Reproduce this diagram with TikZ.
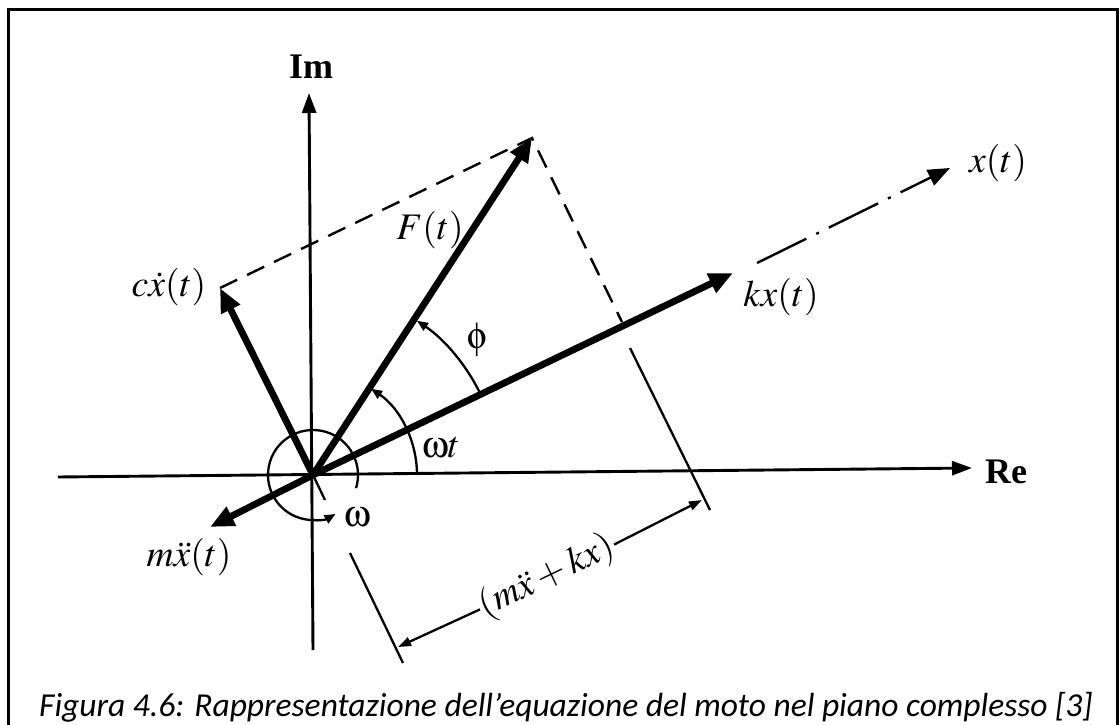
\documentclass[tikz,border=0pt]{standalone}
\usepackage{mathptmx}
\usepackage[Symbol]{upgreek}
\usepackage[no-math]{fontspec}
\setmainfont{Liberation Serif}
\newfontfamily\capfont{Carlito}
\usetikzlibrary{arrows.meta}
\begin{document}
\begin{tikzpicture}[x=1pt,y=1pt,
  vec/.style={line width=6.8pt,-{Triangle[length=24pt,width=20pt]}},
  axis/.style={line width=2.9pt,-{Triangle[length=20pt,width=14pt]}},
  thinline/.style={line width=2.3pt},
  arcarrow/.style={line width=2.3pt,-{Triangle[length=11pt,width=9pt]}},
  dimarrow/.style={line width=2.3pt,-{Triangle[length=13pt,width=9pt]}},
  dashedline/.style={line width=2.4pt,dash pattern=on 19pt off 11pt},
  dashdot/.style={line width=2.4pt,dash pattern=on 55pt off 11pt on 3pt off 11pt,-{Triangle[length=22pt,width=17pt]}},
  lab/.style={inner sep=1pt,font=\fontsize{37.5}{42}\selectfont},
  axlab/.style={inner sep=1pt,font=\fontsize{36}{40}\selectfont\bfseries}]
\useasboundingbox (0,0) rectangle (1119,724);
\begin{scope}
  \clip (0,0) rectangle (1119,724);
  \draw[line width=3pt] (8,714) rectangle (1117,-20);
\end{scope}
% points
\coordinate (O) at (313,249);
\coordinate (ReL) at (58,247);
\coordinate (ReT) at (972,256);
\coordinate (ImB) at (313,74);
\coordinate (ImT) at (309,631);
\coordinate (KX) at (733,451);
\coordinate (XS) at (757,461);
\coordinate (XT) at (950,556);
\coordinate (FT) at (532,586);
\coordinate (CX) at (220,436);
\coordinate (CXe) at (325,224);
\coordinate (MX) at (210,197);
\coordinate (FP) at (622,402);
\coordinate (E1a) at (630,376);
\coordinate (E1b) at (710,214);
\coordinate (E2a) at (350,171);
\coordinate (E2b) at (403,61);
\coordinate (D1) at (398,77);
\coordinate (D2) at (702,224);
% axes
\draw[axis] (ReL) -- (ReT);
\draw[axis] (ImB) -- (ImT);
\node[axlab] (re) at (1006,252) {Re};
\node[axlab] (im) at (311,657) {Im};
% dashed construction
\draw[dashedline] (CX) -- (FT) -- (FP);
\draw[dashdot] (XS) -- (XT);
% vectors
\draw[vec] (O) -- (KX);
\draw[vec] (O) -- (FT);
\draw[vec] (O) -- (CX);
\draw[vec] (O) -- (MX);
\draw[thinline] (O) -- (CXe);
% angle arcs
\draw[arcarrow] ([shift={(0:104)}]O) arc[start angle=0,end angle=56,radius=104];
\draw[arcarrow] ([shift={(25.7:186)}]O) arc[start angle=25.7,end angle=56,radius=186];
\draw[arcarrow] ([shift={(-17:45)}]O) arc[start angle=-17,end angle=300,radius=45];
% extension lines
\draw[thinline] (E1a) -- (E1b);
\draw[thinline] (E2a) -- (E2b);
% dimension
\node[lab,rotate=25.8] (dim) at (547,147) {$(m\ddot{x} + kx)$};
\draw[dimarrow] (dim.west) -- (D1);
\draw[dimarrow] (dim.east) -- (D2);
% labels
\node[lab] (kxl) at (781,427) {$kx(t)$};
\node[lab] (xl) at (998,561) {$x(t)$};
\node[lab] (fl) at (430,494) {$F(t)$};
\node[lab] (cxl) at (169,437) {$c\dot{x}(t)$};
\node[lab] (mxl) at (189,167) {$m\ddot{x}(t)$};
\node[lab] (wtl) at (441,276) {$\upomega t$};
\node[lab] (phl) at (477,384) {$\upphi$};
\node[lab] (wl) at (357,207) {$\upomega$};
% caption
\node[anchor=base,inner sep=0pt,font=\capfont\itshape\fontsize{33.5}{38}\selectfont] (cap) at (566,8)
  {Figura 4.6: Rappresentazione dell’equazione del moto nel piano complesso [3]};
\end{tikzpicture}
\end{document}
